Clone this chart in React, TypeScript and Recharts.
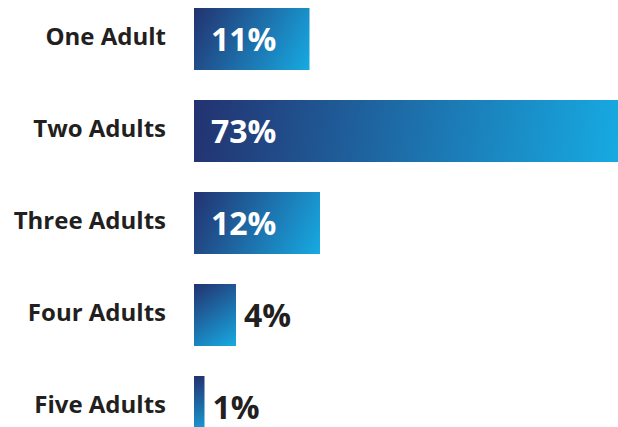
import { BarChart, Bar, XAxis, YAxis, LabelList } from 'recharts';

const categories = ['One Adult', 'Two Adults', 'Three Adults', 'Four Adults', 'Five Adults'];
const shares = [11, 73, 12, 4, 1];

const data = categories.map((name, i) => ({ name, share: shares[i] }));

const FONT = '"Open Sans", Lato, sans-serif';
const DARK = '#231f20';
const VIEW_RIGHT = 618;

const ShareLabel = (props: any) => {
    const { x, y, width, height, value } = props;
    const inside = value >= 10;
    return (
        <text
            x={inside ? x + 17 : x + width + 8}
            y={y + height / 2}
            dy="0.36em"
            fill={inside ? '#ffffff' : DARK}
            fontFamily={FONT}
            fontWeight={700}
            fontSize={32}
        >
            {value}%
        </text>
    );
};

// each bar gets its own diagonal gradient, measured on the visible part
const GradientBar = (props: any) => {
    const { x, y, width, height, index } = props;
    const id = `barFill${index}`;
    return (
        <g>
            <defs>
                <linearGradient
                    id={id}
                    gradientUnits="userSpaceOnUse"
                    x1={x}
                    y1={y}
                    x2={Math.min(x + width, VIEW_RIGHT)}
                    y2={y + height}
                >
                    <stop offset="0%" stopColor="#233270" />
                    <stop offset="100%" stopColor="#17aae2" />
                </linearGradient>
            </defs>
            <rect x={x} y={y} width={width} height={height} fill={`url(#${id})`} />
        </g>
    );
};

export default function App() {
    return (
        <div style={{ position: 'absolute', left: 0, top: 0, width: 618, height: 427, overflow: 'hidden', background: '#fff' }}>
            <div style={{ position: 'absolute', left: 0, top: -7 }}>
                <BarChart
                    width={1034}
                    height={460}
                    data={data}
                    layout="vertical"
                    margin={{ top: 0, right: 0, bottom: 0, left: 0 }}
                >
                    <XAxis type="number" domain={[0, 80]} hide />
                    <YAxis
                        type="category"
                        dataKey="name"
                        width={194}
                        axisLine={false}
                        tickLine={false}
                        tickSize={0}
                        tickMargin={28}
                        tick={{ fill: DARK, fontFamily: FONT, fontWeight: 700, fontSize: 24, dy: -3 }}
                    />
                    <Bar dataKey="share" barSize={62} shape={GradientBar} isAnimationActive={false}>
                        <LabelList dataKey="share" content={ShareLabel} />
                    </Bar>
                </BarChart>
            </div>
        </div>
    );
}
